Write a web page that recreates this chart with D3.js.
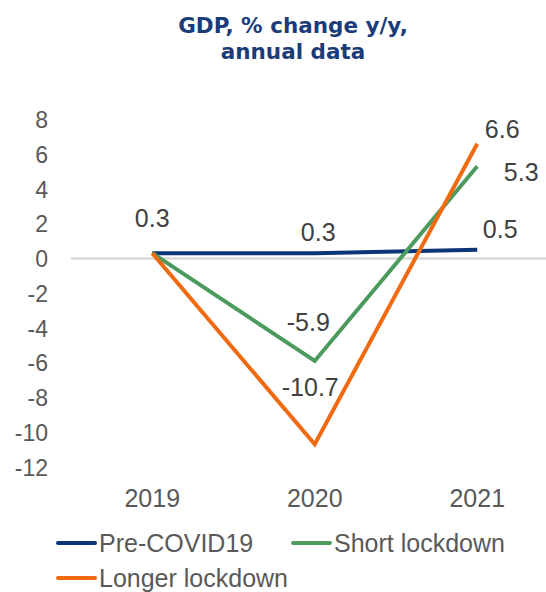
<!DOCTYPE html>
<html><head><meta charset="utf-8">
<script src="https://cdn.jsdelivr.net/npm/d3@7"></script>
<style>body{margin:0;background:#fff}svg{display:block}</style>
</head><body>
<script>
const years = ["2019", "2020", "2021"];
const seriesNames = ["Pre-COVID19", "Short lockdown", "Longer lockdown"];
const preCovid = [0.3, 0.3, 0.5];
const shortLockdown = [0.3, -5.9, 5.3];
const longerLockdown = [0.3, -10.7, 6.6];
const yTicks = [8, 6, 4, 2, 0, -2, -4, -6, -8, -10, -12];
const colors = ["#0A3577", "#4C9A5E", "#F06A12"];

// label placement (dx, dy from point) per series/point; null = no label
const labelOffsets = [
  [[0, -26], [3.5, -12.6], [23, -12]],
  [null, [-6.5, -30], [44, 15]],
  [null, [-4.5, -48.5], [25, -6]]
];

const W = 546, H = 592;
const FONT = "Liberation Sans, Arial, sans-serif";
const svg = d3.select("body").append("svg").attr("width", W).attr("height", H);

const x = d3.scaleBand().domain(years).range([71, 558.5]).padding(0);
const y = d3.scaleLinear().domain([-12, 8]).range([466.9, 119.4]);
const cx = d => x(d) + x.bandwidth() / 2;
const fmt = v => d3.format(".1f")(v).replace("\u2212", "-");

// title
[["GDP, % change y/y,", 33], ["annual data", 59]].forEach(([t, yy]) => {
  svg.append("text").attr("x", 293).attr("y", yy).attr("text-anchor", "middle")
    .attr("font-family", "DejaVu Sans").attr("font-weight", "bold").attr("font-size", 21.5)
    .attr("fill", "#1B3C78").text(t);
});

// y axis labels
const yAxis = d3.axisLeft(y).tickValues(yTicks).tickSize(0).tickPadding(0)
  .tickFormat(d => String(d));
const gy = svg.append("g").attr("transform", "translate(48,0)").call(yAxis);
gy.select(".domain").remove();
gy.selectAll("text").attr("font-family", FONT)
  .attr("font-size", 23).attr("fill", "#595959").attr("dy", "0.36em");

// zero line
svg.append("line").attr("x1", 71).attr("x2", 546).attr("y1", y(0)).attr("y2", y(0))
  .attr("stroke", "#D9D9D9").attr("stroke-width", 2.5);

// x axis labels
const xAxis = d3.axisBottom(x).tickSize(0).tickPadding(0);
const gx = svg.append("g").attr("transform", "translate(0,507)").call(xAxis);
gx.select(".domain").remove();
gx.selectAll("text").attr("font-family", FONT)
  .attr("font-size", 25).attr("fill", "#595959").attr("dy", "0");

// lines
const allSeries = [preCovid, shortLockdown, longerLockdown];
const line = d3.line().x((d, i) => cx(years[i])).y(d => y(d));
allSeries.forEach((s, k) => {
  svg.append("path").datum(s).attr("d", line).attr("fill", "none")
    .attr("stroke", colors[k]).attr("stroke-width", 4).attr("stroke-linejoin", "miter");
});

// data labels
allSeries.forEach((s, k) => {
  s.forEach((v, i) => {
    const o = labelOffsets[k][i];
    if (!o) return;
    svg.append("text").attr("x", cx(years[i]) + o[0]).attr("y", y(v) + o[1])
      .attr("text-anchor", "middle").attr("font-family", FONT)
      .attr("font-size", 25).attr("fill", "#404040").text(fmt(v));
  });
});

// legend
const legendPos = [[58, 543], [293, 543], [58, 578]];
seriesNames.forEach((n, k) => {
  const [lx, ly] = legendPos[k];
  svg.append("line").attr("x1", lx).attr("x2", lx + 37).attr("y1", ly).attr("y2", ly)
    .attr("stroke", colors[k]).attr("stroke-width", 4).attr("stroke-linecap", "round");
  svg.append("text").attr("x", lx + 41).attr("y", ly + 8.5)
    .attr("font-family", FONT).attr("font-size", 25)
    .attr("fill", "#595959").text(n);
});
</script>
</body></html>
